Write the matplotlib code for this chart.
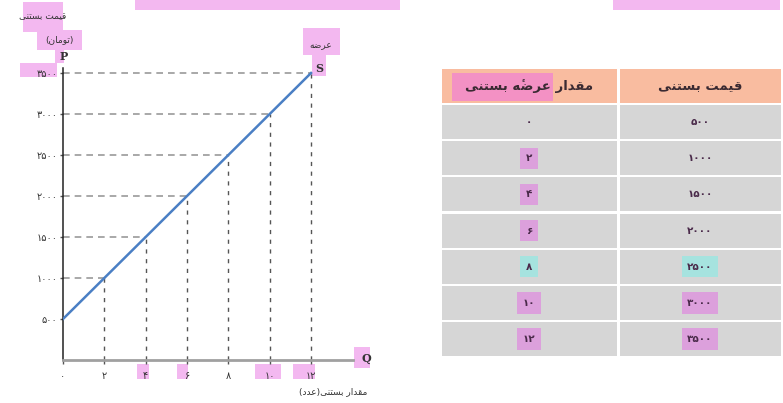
import matplotlib
matplotlib.use("Agg")
import matplotlib.pyplot as plt
from matplotlib.patches import Rectangle

plt.rcParams['font.family'] = ['DejaVu Sans']

# data
quantity = [0, 2, 4, 6, 8, 10, 12]
price = [500, 1000, 1500, 2000, 2500, 3000, 3500]
fa_digits = str.maketrans('0123456789', '۰۱۲۳۴۵۶۷۸۹')
q_labels = [str(q).translate(fa_digits) for q in quantity]
p_labels = [str(p).translate(fa_digits) for p in price]
col_headers = ['مقدار عرضهٔ بستنی', 'قیمت بستنی']
# highlight colour per table row (None = no highlight)
q_marks = [None, 'pink', 'pink', 'pink', 'teal', 'pink', 'pink']
p_marks = [None, None, None, None, 'teal', 'pink', 'pink']

# Arabic-script shaping (matplotlib has no shaping / bidi)
FORMS = {
    'ا': ('\uFE8D', '\uFE8E', None, None),
    'ب': ('\uFE8F', '\uFE90', '\uFE91', '\uFE92'),
    'ت': ('\uFE95', '\uFE96', '\uFE97', '\uFE98'),
    'د': ('\uFEA9', '\uFEAA', None, None),
    'ر': ('\uFEAD', '\uFEAE', None, None),
    'س': ('\uFEB1', '\uFEB2', '\uFEB3', '\uFEB4'),
    'ض': ('\uFEBD', '\uFEBE', '\uFEBF', '\uFEC0'),
    'ع': ('\uFEC9', '\uFECA', '\uFECB', '\uFECC'),
    'ق': ('\uFED5', '\uFED6', '\uFED7', '\uFED8'),
    'م': ('\uFEE1', '\uFEE2', '\uFEE3', '\uFEE4'),
    'ن': ('\uFEE5', '\uFEE6', '\uFEE7', '\uFEE8'),
    'ه': ('\uFEE9', '\uFEEA', '\uFEEB', '\uFEEC'),
    'و': ('\uFEED', '\uFEEE', None, None),
    'ی': ('\uFBFC', '\uFBFD', '\uFBFE', '\uFBFF'),
}
MARKS = '\u0654'


def fa(text):
    base = [ch for ch in text if ch not in MARKS]
    clusters = []
    for i, ch in enumerate(text):
        if ch in MARKS:
            clusters[-1] += ch
            continue
        clusters.append(ch)
    out = []
    for i, cl in enumerate(clusters):
        ch = cl[0]
        if ch not in FORMS:
            out.append(cl)
            continue
        iso, fin, ini, med = FORMS[ch]
        prev = base[i - 1] if i > 0 else ''
        nxt = base[i + 1] if i + 1 < len(base) else ''
        jp = prev in FORMS and FORMS[prev][2] is not None
        jn = nxt in FORMS and ini is not None
        if jp and jn:
            g = med
        elif jp:
            g = fin
        elif jn:
            g = ini
        else:
            g = iso
        out.append(g + cl[1:])
    return ''.join(out[::-1]).translate(str.maketrans('()', ')('))


W, H = 783, 403
PINK = '#f3b8f0'
TEAL = '#a6e3df'
TXT = '#4a2a4a'

fig = plt.figure(figsize=(W / 100, H / 100), dpi=100)


def px(x, y):
    return x / W, 1 - y / H


def fbox(x0, y0, x1, y1, color=PINK):
    fig.patches.append(Rectangle(px(x0, y1), (x1 - x0) / W, (y1 - y0) / H,
                                 transform=fig.transFigure, color=color,
                                 zorder=-1, lw=0))


# pink highlights of the chart texts
fbox(135, 0, 400, 10)
fbox(613, 0, 780, 10)
fbox(23, 2, 63, 32)
fbox(37, 30, 82, 50)
fbox(55, 48, 64, 63)
fbox(20, 63, 57, 77)
fbox(303, 28, 340, 55)
fbox(312, 55, 326, 76)
fbox(137, 364, 149, 379)
fbox(177, 364, 188, 379)
fbox(255, 364, 281, 379)
fbox(293, 364, 315, 379)
fbox(354, 347, 370, 368)

# ---------------- chart ----------------
ax = fig.add_axes([63 / W, 43 / H, 290 / W, 298 / H])
ax.set_facecolor('none')
ax.set_xlim(0, 290 / 20.67)
ax.set_ylim(0, 298 / 0.082)
for q, p in zip(quantity, price):
    if q == 0:
        continue
    ax.plot([0, q], [p, p], color='#9a9a9a', lw=1.2, ls=(0, (4, 3)), zorder=1)
    ax.plot([q, q], [0, p], color='#555555', lw=1.0, ls=(0, (3, 4)), zorder=1)
ax.plot(quantity, price, color='#4a7fc4', lw=1.8, zorder=3)

ax.spines['top'].set_visible(False)
ax.spines['right'].set_visible(False)
ax.spines['left'].set_color('#222222')
ax.spines['left'].set_linewidth(1.1)
ax.spines['left'].set_bounds(0, 3560)
ax.spines['bottom'].set_color('#a0a0a0')
ax.spines['bottom'].set_linewidth(2)
ax.set_xticks(quantity)
ax.set_xticklabels(q_labels)
ax.set_yticks(price)
ax.set_yticklabels(p_labels)
ax.tick_params(axis='x', length=3, width=1, color='#555555', pad=5,
               labelsize=7, labelcolor='#333333')
ax.tick_params(axis='y', length=2, width=1, color='#555555', pad=2,
               labelsize=7, labelcolor='#333333')

fig.text(*px(43, 17), fa('قیمت بستنی'), fontsize=6.5, color='#333333',
         ha='center', va='center')
fig.text(*px(59, 40), fa('(تومان)'), fontsize=6.5, color='#333333',
         ha='center', va='center')
fig.text(*px(64, 57), 'P', fontsize=8, color='#333333', ha='center',
         va='center', fontweight='bold', family='DejaVu Serif')
fig.text(*px(321, 46), fa('عرضه'), fontsize=6.5, color='#333333',
         ha='center', va='center')
fig.text(*px(319, 69), 'S', fontsize=8, color='#333333', ha='center',
         va='center', fontweight='bold', family='DejaVu Serif')
fig.text(*px(366, 359), 'Q', fontsize=8, color='#333333', ha='center',
         va='center', fontweight='bold', family='DejaVu Serif')
fig.text(*px(333, 392), fa('مقدار بستنی(عدد)'), fontsize=6.5,
         color='#333333', ha='center', va='center')

# ---------------- table ----------------
tx = fig.add_axes([440 / W, 46 / H, 342 / W, 289 / H])
tx.set_xlim(0, 342)
tx.set_ylim(len(quantity) + 1, 0)
tx.axis('off')
col_edges = [0, 178, 342]
gap = 1.5
colors = {'pink': '#dca0dc', 'teal': TEAL}

for c in range(2):
    x0, x1 = col_edges[c], col_edges[c + 1]
    tx.add_patch(Rectangle((x0 + gap, 0.03), x1 - x0 - 2 * gap, 0.94,
                           color='#f9bca0', lw=0))
    for r in range(len(quantity)):
        tx.add_patch(Rectangle((x0 + gap, r + 1 + 0.03), x1 - x0 - 2 * gap,
                               0.94, color='#d6d6d6', lw=0))

# pink overlay on the left header
tx.add_patch(Rectangle((12, 0.15), 101, 0.75, color='#f391c4', lw=0))
for c, head in enumerate(col_headers):
    cx = (col_edges[c] + col_edges[c + 1]) / 2
    tx.text(cx, 0.5, fa(head), ha='center', va='center', fontsize=9.5,
            color='#3a2a32', fontweight='bold')

for r in range(len(quantity)):
    for c, (lab, mark) in enumerate([(q_labels[r], q_marks[r]),
                                     (p_labels[r], p_marks[r])]):
        cx = (col_edges[c] + col_edges[c + 1]) / 2
        box = None
        if mark:
            box = dict(boxstyle='square,pad=0.55', fc=colors[mark], lw=0)
        tx.text(cx, r + 1.5, lab, ha='center', va='center', fontsize=7.5,
                color=TXT, fontweight='bold', bbox=box)

fig.savefig('out.png', dpi=100)
